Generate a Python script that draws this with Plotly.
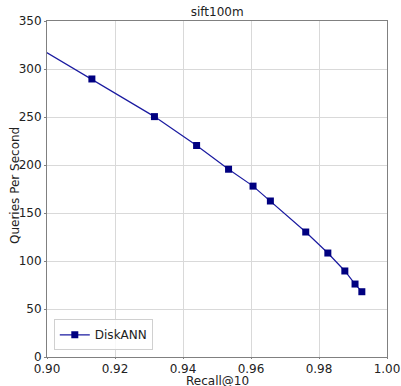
import plotly.graph_objects as go

# DiskANN recall / throughput trade-off on sift100m
recall = [0.889, 0.9132, 0.9316, 0.9440, 0.9534, 0.9606, 0.9657, 0.9761, 0.9826, 0.9876, 0.9906, 0.9926]
qps = [340.0, 289.6, 250.4, 220.3, 195.6, 178.0, 162.5, 130.2, 108.3, 89.6, 76.0, 68.0]

x_ticks = [0.90, 0.92, 0.94, 0.96, 0.98, 1.00]
y_ticks = [0, 50, 100, 150, 200, 250, 300, 350]

FONT = "DejaVu Sans"
TEXT = "#222222"
AXIS_COLOR = "#808080"
GRID_COLOR = "#d9d9d9"

fig = go.Figure()
fig.add_trace(go.Scatter(
    x=recall, y=qps, mode="lines+markers", name="DiskANN",
    line=dict(color="#1a1aa0", width=1.2),
    marker=dict(symbol="square", size=7, color="#000080"),
))

axis_common = dict(
    showline=True, linecolor=AXIS_COLOR, linewidth=1, mirror=True,
    showgrid=True, gridcolor=GRID_COLOR, gridwidth=1,
    ticks="outside", tickcolor=AXIS_COLOR,
    tickfont=dict(family=FONT, size=12, color=TEXT),
    zeroline=False, automargin=False, ticklabeloverflow="allow",
)

fig.update_layout(
    width=401, height=386,
    margin=dict(l=47, r=14, t=21, b=29),
    paper_bgcolor="white", plot_bgcolor="white",
    font=dict(family=FONT, color=TEXT),
    title=dict(text="sift100m", x=0.5417, xanchor="center", y=0.969, yanchor="middle",
               font=dict(family=FONT, size=12, color=TEXT), automargin=False),
    xaxis=dict(range=[0.90, 1.00], tickvals=x_ticks, ticklen=1,
               ticktext=[f"{v:.2f}" for v in x_ticks], **axis_common),
    yaxis=dict(range=[0, 350], tickvals=y_ticks, ticklen=2, **axis_common),
    legend=dict(x=0.02, y=0.02, xanchor="left", yanchor="bottom",
                bgcolor="rgba(255,255,255,0.8)", bordercolor="#d0d0d0", borderwidth=1,
                font=dict(family=FONT, size=12, color=TEXT),
                itemwidth=30, tracegroupgap=0),
    showlegend=True,
)

# axis titles placed in paper space
fig.add_annotation(text="Recall@10", xref="paper", yref="paper",
                   x=0.5, y=-0.070, xanchor="center", yanchor="middle", showarrow=False,
                   borderpad=0, font=dict(family=FONT, size=12, color=TEXT))
fig.add_annotation(text="Queries Per Second", xref="paper", yref="paper",
                   x=-0.094, y=0.509, xanchor="center", yanchor="middle", showarrow=False,
                   borderpad=0, textangle=-90, font=dict(family=FONT, size=12, color=TEXT))

fig.write_html("out.html")
